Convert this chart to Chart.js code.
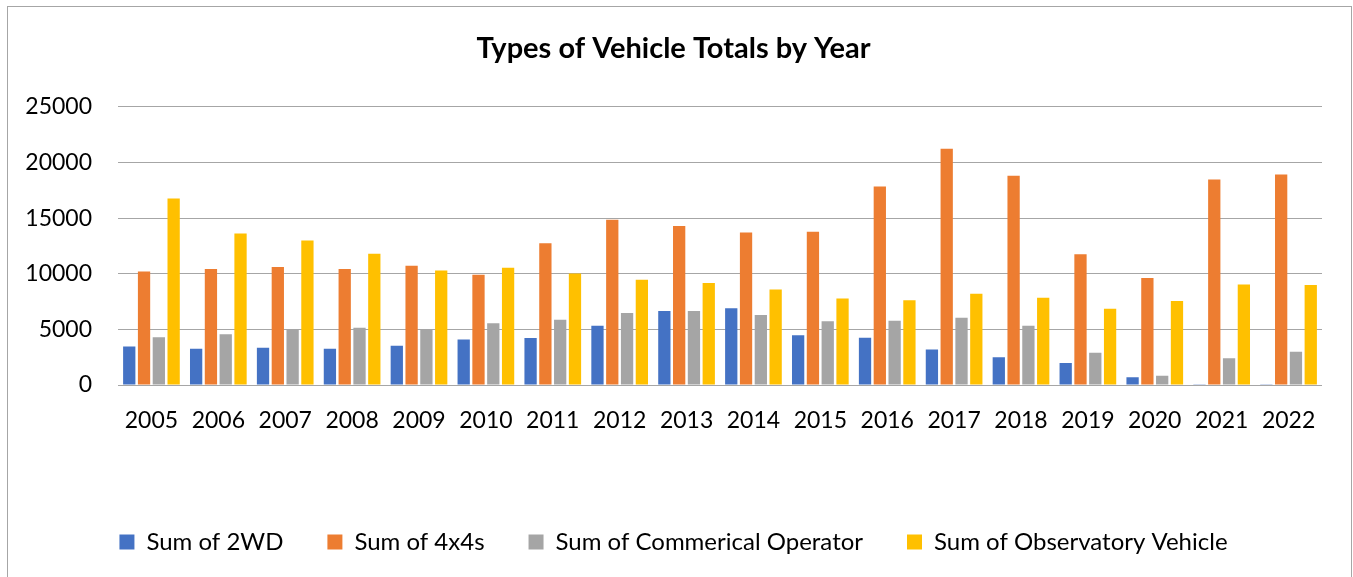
<!DOCTYPE html>
<html>
<head>
<meta charset="utf-8">
<script src="https://cdn.jsdelivr.net/npm/chart.js@4/dist/chart.umd.min.js"></script>
<style>
  body { margin: 0; background: #fff; }
  #frame { position: absolute; left: 7px; top: 6px; width: 1343px; height: 575px; border: 1px solid #a6a6a6; }
  canvas { display: block; }
</style>
</head>
<body>
<div id="frame"><canvas id="vehiclechart" width="1343" height="570"></canvas></div>
<script>
const years = ["2005", "2006", "2007", "2008", "2009", "2010", "2011", "2012", "2013",
  "2014", "2015", "2016", "2017", "2018", "2019", "2020", "2021", "2022"];
const twoWD = [3470, 3260, 3350, 3260, 3530, 4100, 4220, 5330, 6650,
  6890, 4460, 4250, 3200, 2490, 1980, 690, 15, 15];
const fourByFours = [10210, 10420, 10600, 10420, 10720, 9910, 12730, 14850, 14280,
  13710, 13770, 17840, 21230, 18800, 11740, 9610, 18470, 18920];
const commercial = [4280, 4550, 5030, 5150, 5000, 5540, 5870, 6470, 6650,
  6290, 5720, 5780, 6050, 5330, 2900, 840, 2400, 2990];
const observatory = [16770, 13620, 12990, 11800, 10300, 10540, 10030, 9460, 9160,
  8590, 7780, 7610, 8200, 7840, 6860, 7550, 9040, 8980];
const yTicks = [0, 5000, 10000, 15000, 20000, 25000];

const fontFamily = "Lato, 'Open Sans', sans-serif";
const gridColor = "#a6a6a6";

const makeSet = (label, data, color) => ({
  label: label,
  data: data,
  backgroundColor: color,
  borderWidth: 0,
  categoryPercentage: 0.885,
  barPercentage: 0.83,
});

const config = {
  type: "bar",
  data: {
    labels: years,
    datasets: [
      makeSet("Sum of 2WD", twoWD, "#4472c4"),
      makeSet("Sum of 4x4s", fourByFours, "#ed7d31"),
      makeSet("Sum of Commerical Operator", commercial, "#a5a5a5"),
      makeSet("Sum of Observatory Vehicle", observatory, "#ffc000"),
    ],
  },
  options: {
    responsive: false,
    animation: false,
    devicePixelRatio: 1,
    layout: {
      padding: { left: 17, right: 29, top: 0, bottom: 13 },
    },
    scales: {
      y: {
        min: 0,
        max: 25000,
        afterBuildTicks: (scale) => {
          scale.ticks = yTicks.map((v) => ({ value: v }));
        },
        afterFit: (scale) => { scale.width = 93; },
        ticks: {
          color: "#000",
          padding: 26,
          font: { family: fontFamily, size: 23 },
          callback: (value) => String(value),
        },
        grid: { color: gridColor, lineWidth: 1, drawTicks: false },
        border: { display: false },
      },
      x: {
        afterFit: (scale) => { scale.height = 101; },
        ticks: {
          color: "#000",
          padding: 14,
          maxRotation: 0,
          font: { family: fontFamily, size: 23 },
        },
        grid: { display: false },
        border: { display: false },
      },
    },
    plugins: {
      title: {
        display: true,
        text: "Types of Vehicle Totals by Year",
        color: "#000",
        font: { family: fontFamily, size: 29, weight: "bold" },
        padding: { top: 24, bottom: 41 },
      },
      legend: {
        position: "bottom",
        labels: {
          color: "#000",
          boxWidth: 15,
          boxHeight: 15,
          padding: 44,
          font: { family: fontFamily, size: 24 },
        },
      },
      tooltip: { enabled: false },
    },
  },
};

document.addEventListener("DOMContentLoaded", function () {
  const ctx = document.getElementById("vehiclechart");
  new Chart(ctx, config);
});
</script>
</body>
</html>
